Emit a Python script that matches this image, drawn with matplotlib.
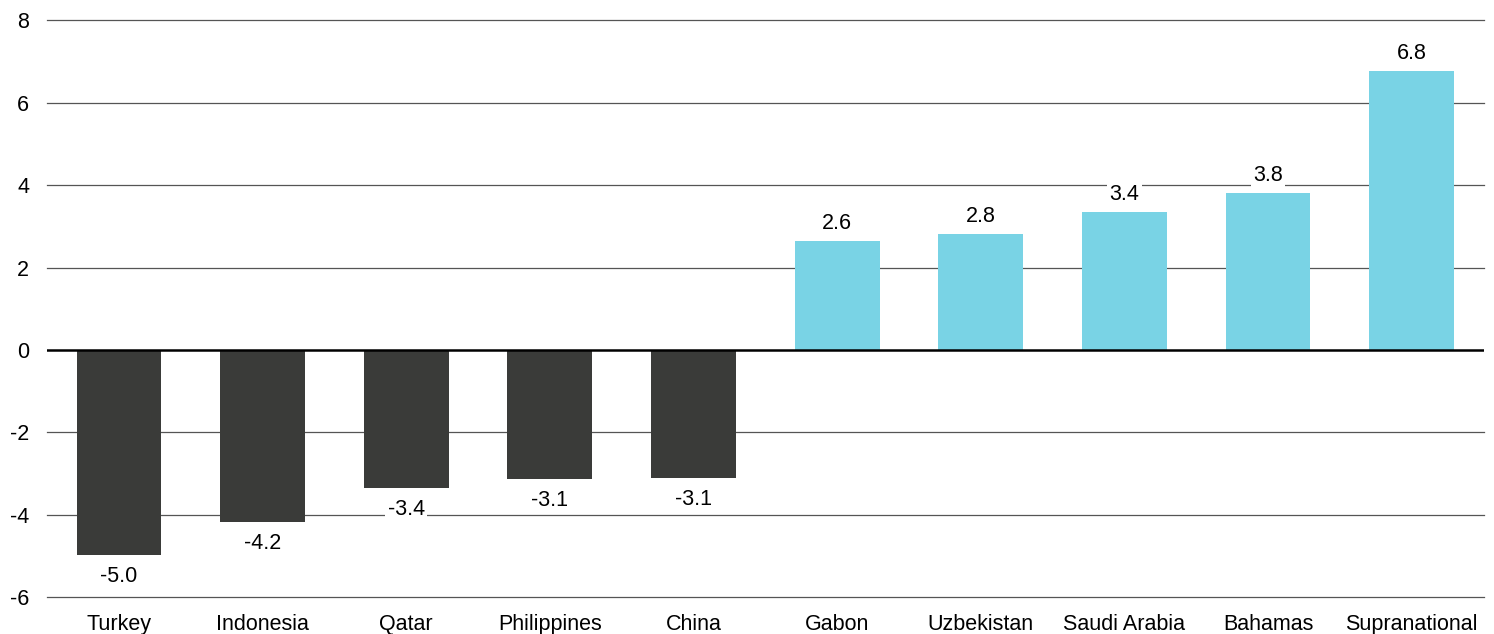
import matplotlib.pyplot as plt
import numpy as np

plt.rcParams['font.family'] = ['Liberation Sans', 'DejaVu Sans']

# Data
countries = ["Turkey", "Indonesia", "Qatar", "Philippines", "China",
             "Gabon", "Uzbekistan", "Saudi Arabia", "Bahamas", "Supranational"]
values = [-4.97, -4.18, -3.35, -3.13, -3.11, 2.65, 2.82, 3.36, 3.81, 6.77]
labels = ["-5.0", "-4.2", "-3.4", "-3.1", "-3.1", "2.6", "2.8", "3.4", "3.8", "6.8"]
y_ticks = [-6, -4, -2, 0, 2, 4, 6, 8]

NEG_COLOR = "#3a3b39"
POS_COLOR = "#79d3e5"
FS = 15.5

fig = plt.figure(figsize=(14.94, 6.34), dpi=100)
ax = fig.add_axes([0.0315, 0.058, 0.9615, 0.910])

x = np.arange(len(countries))
colors = [NEG_COLOR if v < 0 else POS_COLOR for v in values]
ax.bar(x, values, width=0.59, color=colors, zorder=3)

# Gridlines
for t in y_ticks:
    if t == 0:
        ax.axhline(t, color="black", linewidth=1.8, zorder=4)
    else:
        ax.axhline(t, color="#555555", linewidth=0.9, zorder=1, clip_on=False)

# Value labels with white background
for xi, v, lab in zip(x, values, labels):
    if v >= 0:
        ax.annotate(lab, (xi, v), xytext=(0, 5), textcoords="offset points",
                    ha="center", va="bottom", fontsize=FS, zorder=5,
                    bbox=dict(boxstyle="square,pad=0.1", fc="white", ec="none"))
    else:
        ax.annotate(lab, (xi, v), xytext=(0, -8), textcoords="offset points",
                    ha="center", va="top", fontsize=FS, zorder=5,
                    bbox=dict(boxstyle="square,pad=0.1", fc="white", ec="none"))

ax.set_xlim(-0.5, len(countries) - 0.5)
ax.set_ylim(-6, 8)
ax.set_yticks(y_ticks)
ax.set_yticklabels([str(t) for t in y_ticks])
ax.set_xticks(x)
ax.set_xticklabels(countries)
ax.tick_params(axis="both", length=0, labelsize=FS)
ax.tick_params(axis="y", pad=13)
ax.tick_params(axis="x", pad=12)
for s in ax.spines.values():
    s.set_visible(False)

fig.savefig("out.png", dpi=100)
